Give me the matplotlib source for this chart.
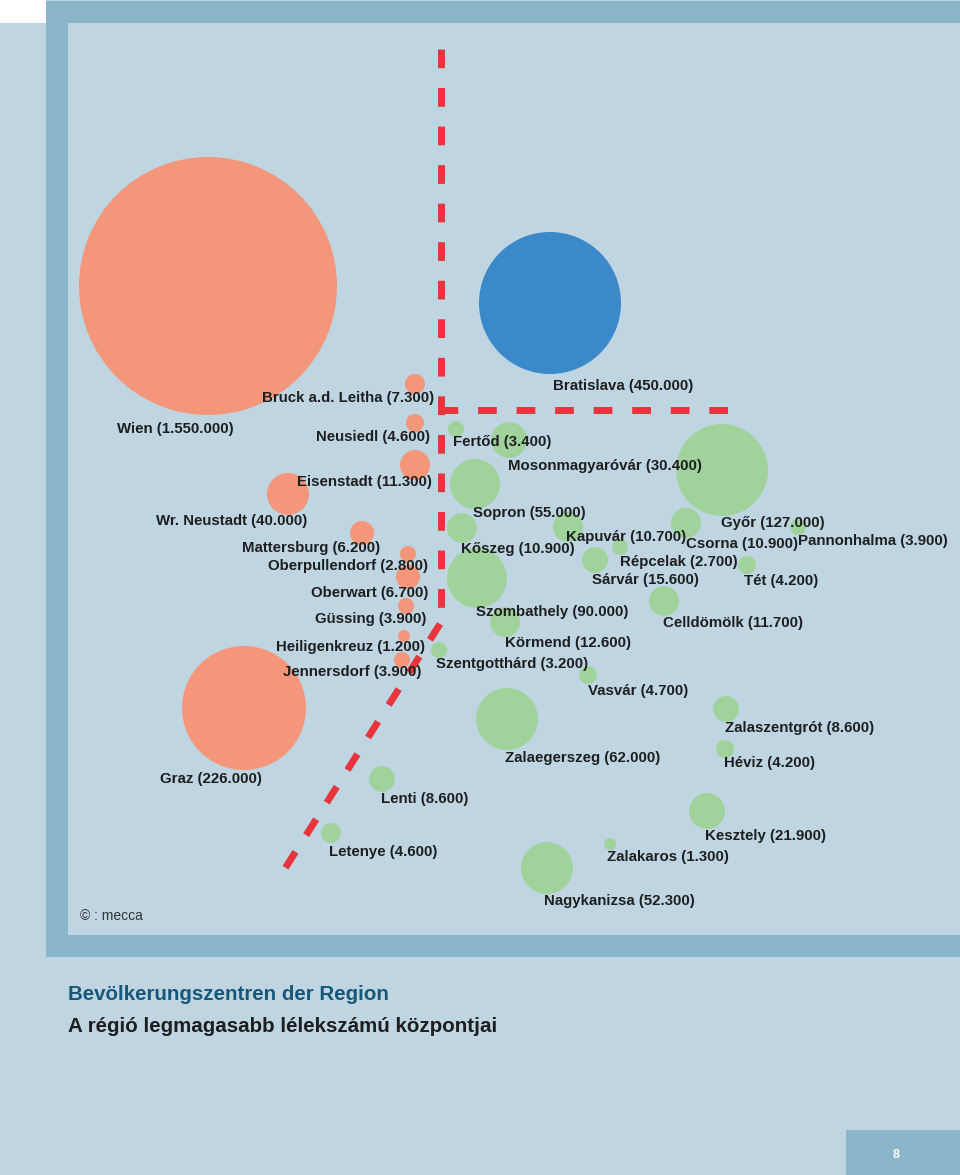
import matplotlib
matplotlib.use("Agg")
import matplotlib.pyplot as plt
from matplotlib.patches import Circle, Rectangle

# city, population, country
NAMES = ["Wien", "Bruck a.d. Leitha", "Neusiedl", "Eisenstadt", "Wr. Neustadt", "Mattersburg",
         "Oberpullendorf", "Oberwart", "Güssing", "Heiligenkreuz", "Jennersdorf", "Graz",
         "Bratislava",
         "Fertőd", "Mosonmagyaróvár", "Sopron", "Kapuvár", "Kőszeg", "Győr", "Csorna", "Pannonhalma",
         "Répcelak", "Sárvár", "Tét", "Szombathely", "Celldömölk", "Körmend", "Szentgotthárd",
         "Vasvár", "Zalaszentgrót", "Zalaegerszeg", "Héviz", "Lenti", "Kesztely", "Letenye",
         "Zalakaros", "Nagykanizsa"]
POP = [1550000, 7300, 4600, 11300, 40000, 6200, 2800, 6700, 3900, 1200, 3900, 226000,
       450000,
       3400, 30400, 55000, 10700, 10900, 127000, 10900, 3900, 2700, 15600, 4200, 90000, 11700,
       12600, 3200, 4700, 8600, 62000, 4200, 8600, 21900, 4600, 1300, 52300]
COUNTRY = ["AT"] * 12 + ["SK"] + ["HU"] * 24

# map layout in page pixels: bubble centre, radius, label anchor
CX = [208, 415, 415, 415, 288, 362, 408, 408, 406, 404, 402, 244,
      550,
      456, 509, 475, 568, 462, 722, 686, 798, 620, 595, 747, 477, 664, 505, 439, 588, 726, 507,
      725, 382, 707, 331, 610, 547]
CY = [286, 384, 423, 465, 494, 533, 554, 577, 606, 636, 660, 708,
      303,
      429, 440, 484, 527, 528, 470, 523, 527, 547, 560, 565, 578, 601, 622, 650, 675, 709, 719,
      749, 779, 811, 833, 844, 868]
RAD = [129, 10, 9, 15, 21, 12, 8, 12, 8, 6, 8, 62,
       71,
       8, 18, 25, 15, 15, 46, 15, 8, 8, 13, 9, 30, 15, 15, 8, 9, 13, 31, 9, 13, 18, 10, 6, 26]
LX = [234, 434, 430, 432, 307, 380, 428, 428, 426, 425, 421, 262,
      553,
      453, 508, 473, 566, 461, 721, 686, 798, 620, 592, 744, 476, 663, 505, 436, 588, 725, 505,
      724, 381, 705, 329, 607, 544]
LY = [429, 398, 437, 482, 521, 548, 566, 593, 619, 647, 672, 779,
      386,
      442, 466, 513, 537, 549, 523, 544, 541, 562, 580, 581, 612, 623, 643, 664, 691, 728, 758,
      763, 799, 836, 852, 857, 901]

COL = {"AT": "#f39679", "SK": "#3b89c8", "HU": "#a0d39c"}
BG = "#bfd6e2"
FRAME = "#8ab5cb"
RED = "#e8343c"
FONT = ["Liberation Sans", "DejaVu Sans"]

fig = plt.figure(figsize=(9.6, 11.75), dpi=100, facecolor=BG)
ax = fig.add_axes([0, 0, 1, 1])
ax.set_xlim(0, 960); ax.set_ylim(1175, 0)
ax.axis("off")

# frame
ax.add_patch(Rectangle((0, 0), 46, 23, facecolor="white", edgecolor="none"))
ax.add_patch(Rectangle((46, 1), 914, 22, facecolor=FRAME, edgecolor="none"))
ax.add_patch(Rectangle((46, 1), 22, 956, facecolor=FRAME, edgecolor="none"))
ax.add_patch(Rectangle((46, 935), 914, 22, facecolor=FRAME, edgecolor="none"))
ax.add_patch(Rectangle((846, 1130), 114, 45, facecolor=FRAME, edgecolor="none"))
ax.text(896, 1155, "8", color="white", fontsize=9, fontweight="bold", family=FONT,
        ha="center", va="center")

# bubbles
for x, y, r, c in zip(CX, CY, RAD, COUNTRY):
    ax.add_patch(Circle((x, y), r, facecolor=COL[c], edgecolor="none", zorder=2))

# border lines
dash = (0, (2.7, 2.85))
ax.plot([441, 441], [49, 614], color=RED, lw=5, ls=dash, dash_capstyle="butt", zorder=3)
ax.plot([439, 731], [410, 410], color=RED, lw=5, ls=dash, dash_capstyle="butt", zorder=3)
ax.plot([440, 284], [624, 870], color=RED, lw=5, ls=dash, dash_capstyle="butt", zorder=3)

# labels
for n, p, c, lx, ly in zip(NAMES, POP, COUNTRY, LX, LY):
    txt = "%s (%s)" % (n, f"{p:,}".replace(",", "."))
    ax.text(lx, ly, txt, ha="right" if c == "AT" else "left", va="center",
            fontsize=10.8, fontweight="bold", color="#1e1e1e", family=FONT, zorder=4)

ax.text(80, 916, "© : mecca", fontsize=10, color="#333333", family=FONT, va="center")
ax.text(68, 995, "Bevölkerungszentren der Region", fontsize=14.8, fontweight="bold",
        color="#17577a", family=FONT, va="center")
ax.text(68, 1027, "A régió legmagasabb lélekszámú központjai", fontsize=14.8, fontweight="bold",
        color="#1e1e1e", family=FONT, va="center")

fig.savefig("out.png", dpi=100, facecolor=BG)
